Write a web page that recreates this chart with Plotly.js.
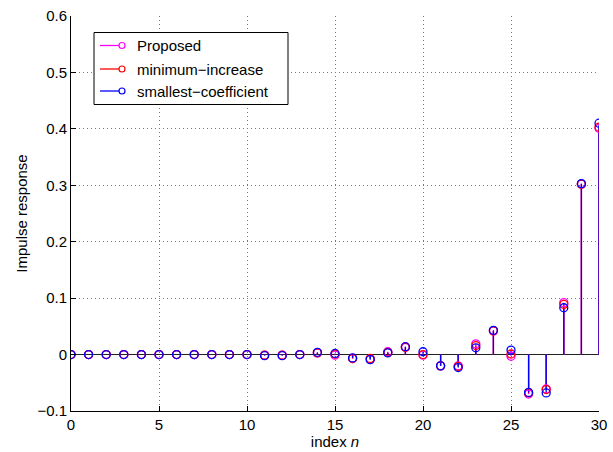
<!DOCTYPE html>
<html>
<head>
<meta charset="utf-8">
<script src="https://cdn.plot.ly/plotly-3.0.1.min.js"></script>
<style>html,body{margin:0;padding:0;background:#fff;}#chart{width:613px;height:452px;}</style>
</head>
<body>
<div id="chart"></div>
<script>
const indexN = [0,1,2,3,4,5,6,7,8,9,10,11,12,13,14,15,16,17,18,19,20,21,22,23,24,25,26,27,28,29,30];
const proposed = [0,0,0,0,0,0,0,0,0,0,0,-0.001,-0.001,0,0.003,-0.001,-0.007,-0.008,0.005,0.013,-0.001,-0.020,-0.020,0.019,0.042,-0.003,-0.070,-0.061,0.092,0.302,0.401];
const minIncrease = [0,0,0,0,0,0,0,0,0,0,0,-0.001,-0.001,0,0.003,0.001,-0.007,-0.007,0.004,0.013,0.000,-0.020,-0.021,0.016,0.042,0.001,-0.068,-0.062,0.089,0.302,0.403];
const smallestCoef = [0,0,0,0,0,0,0,0,0,0,0,-0.002,-0.002,0,0.004,0.002,-0.006,-0.009,0.003,0.014,0.005,-0.020,-0.023,0.012,0.043,0.008,-0.067,-0.068,0.083,0.303,0.410];
const seriesNames = ['Proposed','minimum\u2212increase','smallest\u2212coefficient'];
const seriesColors = ['#ff00ff','#ff0000','#0000ff'];
const xTicks = [0,5,10,15,20,25,30];
const yTicks = [-0.1,0,0.1,0.2,0.3,0.4,0.5,0.6];
const yTickText = ['\u22120.1','0','0.1','0.2','0.3','0.4','0.5','0.6'];

const allSeries = [proposed, minIncrease, smallestCoef];
const traces = [];
allSeries.forEach((vals, k) => {
  const sx = [], sy = [];
  indexN.forEach((n, i) => { sx.push(n, n, null); sy.push(0, vals[i], null); });
  traces.push({x: sx, y: sy, mode: 'lines', line: {color: seriesColors[k], width: 1.3}, showlegend: false, hoverinfo: 'skip'});
});
allSeries.forEach((vals, k) => {
  traces.push({x: indexN, y: vals, mode: 'markers', name: seriesNames[k],
    marker: {symbol: 'circle-open', size: 8, color: seriesColors[k], line: {width: 1.3, color: seriesColors[k]}},
    showlegend: false});
});

// manual legend (MATLAB style)
const L = 71, R = 14, T = 16, B = 41, W = 613 - L - R, H = 452 - T - B;
const px = X => (X - L) / W, py = Y => (452 - B - Y) / H;
const shapes = [
  {type: 'rect', xref: 'paper', yref: 'paper', x0: px(94), x1: px(288), y0: py(104.5), y1: py(32.5),
   line: {color: '#000', width: 1}, fillcolor: '#fff', layer: 'above'}
];
const annotations = [];
const rowY = [45.5, 69, 91];
seriesNames.forEach((nm, k) => {
  shapes.push({type: 'line', xref: 'paper', yref: 'paper', x0: px(100), x1: px(119), y0: py(rowY[k]), y1: py(rowY[k]),
    line: {color: seriesColors[k], width: 1.3}, layer: 'above'});
  shapes.push({type: 'circle', xref: 'paper', yref: 'paper', xsizemode: 'pixel', ysizemode: 'pixel',
    xanchor: px(122), yanchor: py(rowY[k]), x0: -3, x1: 3, y0: -3, y1: 3,
    line: {color: seriesColors[k], width: 1.2}, layer: 'above'});
  annotations.push({xref: 'paper', yref: 'paper', x: px(135), y: py(rowY[k]), xanchor: 'left', yanchor: 'middle',
    text: nm, showarrow: false, font: {family: 'Liberation Sans, Arial, sans-serif', size: 15, color: '#000'}});
});

const layout = {
  width: 613, height: 452,
  margin: {l: L, r: R, t: T, b: B},
  paper_bgcolor: '#fff', plot_bgcolor: '#fff',
  font: {family: 'Liberation Sans, Arial, sans-serif', size: 15, color: '#000'},
  showlegend: false,
  xaxis: {range: [0, 30], tickvals: xTicks, ticktext: xTicks.map(String),
    showgrid: true, gridcolor: '#777', griddash: '1px,3px', gridwidth: 1,
    zeroline: false, showline: true, linecolor: '#000', linewidth: 1,
    ticks: 'inside', ticklen: 5, tickcolor: '#000',
    title: {text: 'index <i>n</i>', font: {size: 15}, standoff: 2}},
  yaxis: {range: [-0.1, 0.6], tickvals: yTicks, ticktext: yTickText,
    showgrid: true, gridcolor: '#777', griddash: '1px,3px', gridwidth: 1,
    zeroline: true, zerolinecolor: '#222', zerolinewidth: 1.3,
    showline: true, linecolor: '#000', linewidth: 1,
    ticks: 'inside', ticklen: 5, tickcolor: '#000',
    title: {text: 'Impulse response', font: {size: 15}, standoff: 6}},
  shapes: shapes,
  annotations: annotations
};
Plotly.newPlot('chart', traces, layout, {displayModeBar: false, staticPlot: true});
</script>
</body>
</html>
